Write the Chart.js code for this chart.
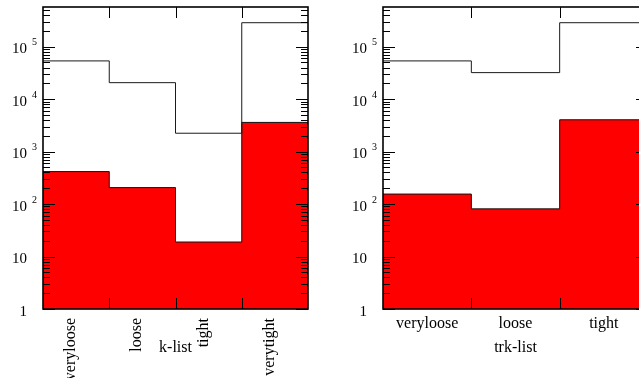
<!DOCTYPE html>
<html>
<head>
<meta charset="utf-8">
<script src="https://cdn.jsdelivr.net/npm/chart.js@4"></script>
<style>
  html, body { margin: 0; padding: 0; background: #fff; }
  #wrap { position: relative; width: 639px; height: 378px; overflow: hidden; }
  #wrap canvas { position: absolute; top: 0; }
</style>
</head>
<body>
<div id="wrap">
  <canvas id="chart-k" width="320" height="378" style="left:0;width:320px;height:378px"></canvas>
  <canvas id="chart-trk" width="340" height="378" style="left:320px;width:340px;height:378px"></canvas>
</div>
<script>
// ─── data ────────────────────────────────────────────────────────────────────
const kCats   = ['veryloose', 'loose', 'tight', 'verytight'];
const kAll    = [53500, 20600, 2240, 286000];
const kSel    = [416, 206, 18.9, 3600];

const trkCats = ['veryloose', 'loose', 'tight'];
const trkAll  = [53500, 32000, 286000];
const trkSel  = [155, 81, 4040];

const yMin = 1, yMax = 5.7e5;
const yTickValues = [1, 10, 100, 1000, 10000, 100000];
const yTickLabels = [['1', ''], ['10', ''], ['10', '2'], ['10', '3'], ['10', '4'], ['10', '5']];

const SERIF = '"Liberation Serif", "Times New Roman", serif';

// bin values -> points at bin edges for a stepped line
function stepPoints(vals) {
  return vals.map((v, i) => ({ x: i, y: v })).concat([{ x: vals.length, y: vals[vals.length - 1] }]);
}

// ─── frame, inward ticks and labels ──────────────────────────────────────────
const framePlugin = {
  id: 'frame',
  afterDraw(chart, args, o) {
    const { ctx, chartArea: a, scales: { x, y } } = chart;
    ctx.save();
    ctx.strokeStyle = '#000';
    ctx.lineWidth = 1;
    ctx.beginPath();
    // log ticks on left and right
    for (let k = 0; k <= 5; k++) {
      for (let m = 1; m <= 9; m++) {
        const v = m * Math.pow(10, k);
        if (v < yMin || v > yMax) continue;
        const len = m === 1 ? 12 : 7;
        const py = Math.round(y.getPixelForValue(v)) + 0.5;
        ctx.moveTo(a.left, py);  ctx.lineTo(a.left + len, py);
        ctx.moveTo(a.right, py); ctx.lineTo(a.right - len, py);
      }
    }
    // bin edge ticks top and bottom
    for (let i = 1; i < o.cats.length; i++) {
      const px = Math.round(x.getPixelForValue(i)) + 0.5;
      ctx.moveTo(px, a.bottom); ctx.lineTo(px, a.bottom - 11);
      ctx.moveTo(px, a.top);    ctx.lineTo(px, a.top + 11);
    }
    ctx.stroke();

    ctx.lineWidth = 1.6;
    ctx.strokeRect(a.left, a.top, a.right - a.left, a.bottom - a.top);

    // y labels
    ctx.fillStyle = '#000';
    ctx.textBaseline = 'alphabetic';
    yTickValues.forEach((v, i) => {
      const py = y.getPixelForValue(v);
      const [base, exp] = yTickLabels[i];
      ctx.font = '15px ' + SERIF;
      ctx.textAlign = 'right';
      ctx.fillText(base, a.left - 16, py + 6.5);
      if (exp) {
        ctx.font = '10px ' + SERIF;
        ctx.textAlign = 'left';
        ctx.fillText(exp, a.left - 11, py - 1.5);
      }
    });

    // x labels
    ctx.font = '16px ' + SERIF;
    o.cats.forEach((c, i) => {
      const cx = x.getPixelForValue(i + 0.5);
      if (o.rotate) {
        ctx.save();
        ctx.translate(cx - 1, a.bottom + 9);
        ctx.rotate(-Math.PI / 2);
        ctx.textAlign = 'right';
        ctx.fillText(c, 0, 0);
        ctx.restore();
      } else {
        ctx.textAlign = 'center';
        ctx.fillText(c, cx, a.bottom + 19);
      }
    });

    ctx.textAlign = 'center';
    ctx.fillText(o.title, (a.left + a.right) / 2, a.bottom + 43);
    ctx.restore();
  }
};

function renderHist(canvasId, cats, all, sel, title, padLeft, rotate) {
  return new Chart(document.getElementById(canvasId), {
    type: 'line',
    data: {
      datasets: [
        {
          data: stepPoints(all),
          stepped: true, fill: false,
          borderColor: '#1a1a1a', borderWidth: 1, pointRadius: 0,
        },
        {
          data: stepPoints(sel),
          stepped: true, fill: 'start',
          backgroundColor: '#ff0000', borderColor: '#111', borderWidth: 1, pointRadius: 0,
        },
      ],
    },
    options: {
      responsive: false, animation: false, events: [],
      layout: { padding: { left: padLeft, right: 12, top: 7, bottom: 69 } },
      scales: {
        x: { type: 'linear', min: 0, max: cats.length, display: false },
        y: { type: 'logarithmic', min: yMin, max: yMax, display: false },
      },
      plugins: {
        legend: { display: false },
        tooltip: { enabled: false },
        frame: { cats, title, rotate },
      },
    },
    plugins: [framePlugin],
  });
}

renderHist('chart-k',   kCats,   kAll,   kSel,   'k-list',   43, true);
renderHist('chart-trk', trkCats, trkAll, trkSel, 'trk-list', 63, false);
</script>
</body>
</html>
